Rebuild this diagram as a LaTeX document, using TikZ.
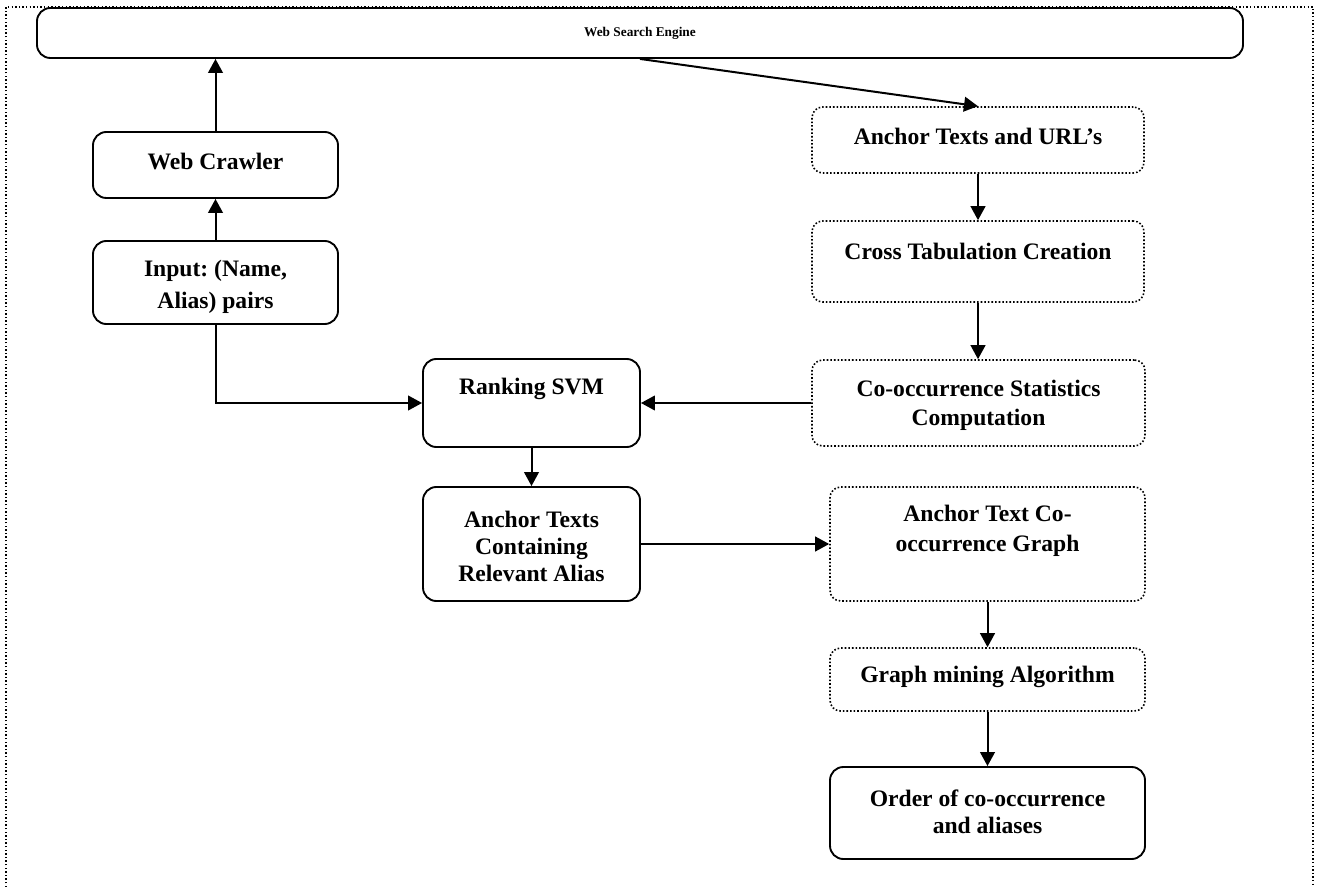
\documentclass[tikz,border=0pt]{standalone}
\usepackage{fontspec}
\setmainfont{Liberation Serif}
\usetikzlibrary{arrows.meta}
\tikzset{
  solidbox/.style={draw, line width=1.4pt, rounded corners=10pt, inner sep=0pt},
  dotbox/.style={draw, line width=1.2pt, dash pattern=on 1.2pt off 1.5pt, rounded corners=8pt, inner sep=0pt},
  lbl/.style={font=\bfseries\fontsize{17.7}{20.25}\selectfont, align=center, inner sep=0pt},
  flow/.style={line width=1.5pt, -{Triangle[length=10.5pt,width=11pt]}},
}
\begin{document}
\frenchspacing
\begin{tikzpicture}[x=0.75pt, y=-0.75pt]
\useasboundingbox (0,0) rectangle (1319,887);
% dotted page frame, open at the bottom
\draw[line width=1.1pt, dash pattern=on 1.1pt off 1.6pt] (6,887) -- (6,7) -- (1313,7) -- (1313,887);

% boxes
\node[solidbox, minimum width=904.5pt, minimum height=37.5pt] (wse) at (640,33) {};
\node[font=\bfseries\fontsize{10}{12}\selectfont] (wse-t) at (640,33) {Web Search Engine};

\node[solidbox, minimum width=183.75pt, minimum height=49.5pt] (crawl) at (215.5,165) {};
\node[lbl] (crawl-t) at (215.5,161) {Web Crawler};

\node[solidbox, minimum width=183.75pt, minimum height=62.25pt] (input) at (215.5,282.5) {};
\node[lbl] (input-t) at (215.5,287) {Input: (Name,\\[3.75pt]Alias) pairs};

\node[solidbox, minimum width=162.75pt, minimum height=66pt] (svm) at (531.5,403) {};
\node[lbl] (svm-t) at (531.5,389) {Ranking SVM};

\node[solidbox, minimum width=162.75pt, minimum height=85.5pt] (ara) at (531.5,544) {};
\node[lbl] (ara-t) at (531.5,546) {Anchor Texts\\Containing\\Relevant Alias};

\node[dotbox, minimum width=249pt, minimum height=49.5pt] (aturl) at (978,140) {};
\node[lbl] (aturl-t) at (978,136) {Anchor Texts and URL’s};

\node[dotbox, minimum width=249pt, minimum height=60.75pt] (cross) at (978,261.5) {};
\node[lbl] (cross-t) at (978,251) {Cross Tabulation Creation};

\node[dotbox, minimum width=249.75pt, minimum height=64.5pt] (costat) at (978.5,403) {};
\node[lbl] (costat-t) at (978.5,405) {Co-occurrence Statistics\\[1.5pt]Computation};

\node[dotbox, minimum width=236.25pt, minimum height=85.5pt] (atcg) at (987.5,544) {};
\node[lbl] (atcg-t) at (987.5,531) {Anchor Text Co-\\[2.5pt]occurrence Graph};

\node[dotbox, minimum width=236.25pt, minimum height=47.25pt] (gm) at (987.5,679.5) {};
\node[lbl] (gm-t) at (987.5,677) {Graph mining Algorithm};

\node[solidbox, minimum width=236.25pt, minimum height=69pt] (order) at (987.5,813) {};
\node[lbl] (order-t) at (987.5,812) {Order of co-occurrence\\and aliases};

% connectors
\draw[flow] (crawl.north) -- (crawl.north |- wse.south);
\draw[flow] (input.north) -- (crawl.south);
\draw[flow] (input.south) |- (svm.west);
\draw[flow] (costat.west) -- (svm.east);
\draw[flow] (svm.south) -- (ara.north);
\draw[flow] (ara.east) -- (atcg.west);
\draw[flow] (wse.south) -- (aturl.north);
\draw[flow] (aturl.south) -- (cross.north);
\draw[flow] (cross.south) -- (cross.south |- costat.north);
\draw[flow] (atcg.south) -- (gm.north);
\draw[flow] (gm.south) -- (order.north);
\end{tikzpicture}
\end{document}
